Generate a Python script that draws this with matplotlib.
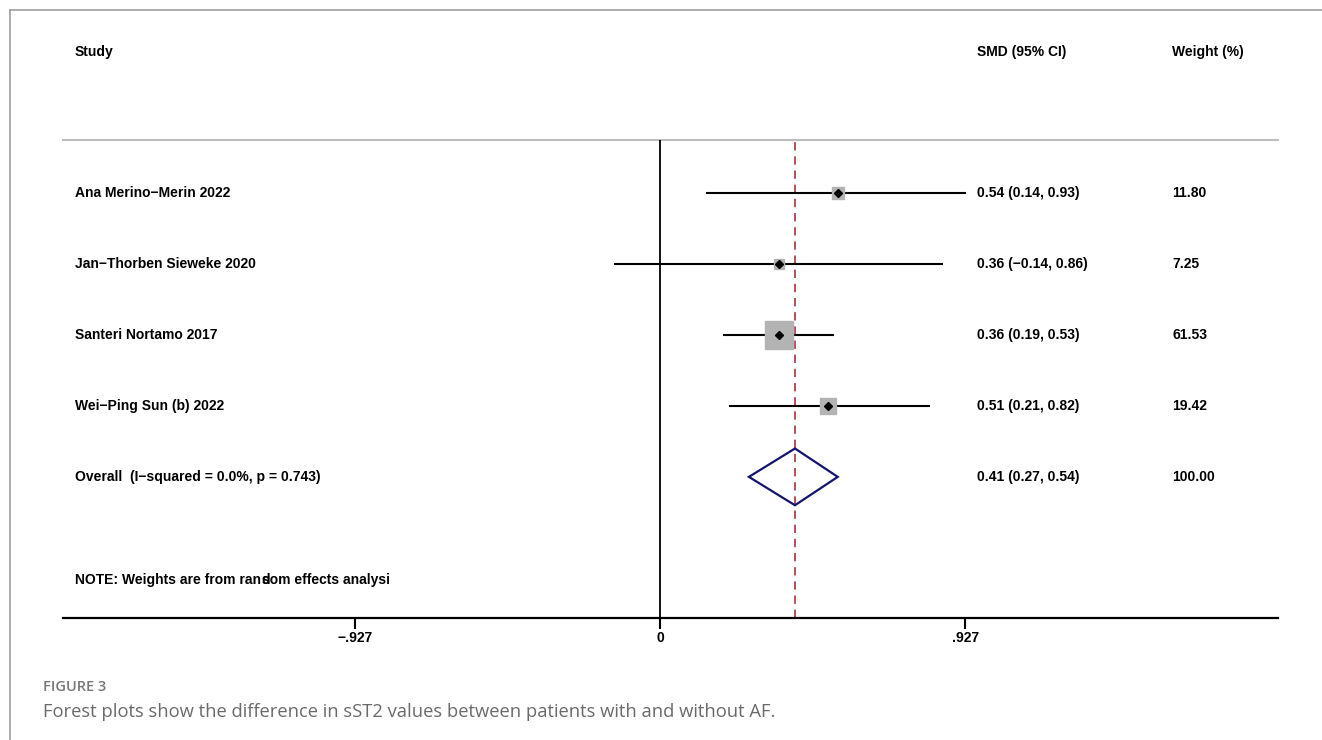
import numpy as np
import matplotlib.pyplot as plt
from matplotlib.lines import Line2D
from matplotlib.patches import Polygon

# study data
studies = ['Ana Merino\u2212Merin 2022', 'Jan\u2212Thorben Sieweke 2020',
           'Santeri Nortamo 2017', 'Wei\u2212Ping Sun (b) 2022']
smd = [0.54, 0.36, 0.36, 0.51]
ci_low = [0.14, -0.14, 0.19, 0.21]
ci_high = [0.93, 0.86, 0.53, 0.82]
weights = [11.80, 7.25, 61.53, 19.42]
overall = (0.41, 0.27, 0.54)
overall_label = 'Overall  (I\u2212squared = 0.0%, p = 0.743)'
tick_vals = [-0.927, 0, 0.927]
tick_labels = ['\u2212.927', '0', '.927']

FONT = ['Liberation Sans Narrow', 'Liberation Sans', 'DejaVu Sans']
FS = 10

fig = plt.figure(figsize=(13.22, 7.40), dpi=100)
ax = fig.add_axes([63 / 1322, 1 - 618 / 740, (1278 - 63) / 1322, (618 - 140) / 740])
ax.set_xlim(-1.8146, 1.878)
ax.set_ylim(6.99, 0.25)

for s in ['top', 'left', 'right']:
    ax.spines[s].set_visible(False)
ax.spines['bottom'].set_linewidth(1.6)
ax.set_yticks([])
ax.set_xticks(tick_vals)
ax.set_xticklabels(tick_labels, fontfamily=FONT, fontweight='bold', fontsize=FS)
ax.tick_params(axis='x', length=8, width=1.5, pad=1)

# header line and reference lines
ax.axhline(0.25, color='#bdbdbd', lw=1.5, clip_on=False)
ax.axvline(0, color='black', lw=1.3)
ax.axvline(overall[0], color='#a8323e', lw=1.2, ls=(0, (5, 3.5)))

txt = dict(fontfamily=FONT, fontweight='bold', fontsize=FS, va='center')
x_study, x_smd, x_wt = -1.778, 0.9635, 1.556
ax.text(x_study, -0.99, 'Study', **txt)
ax.text(x_smd, -0.99, 'SMD (95% CI)', **txt)
ax.text(x_wt, -0.99, 'Weight (%)', **txt)

for i, name in enumerate(studies):
    y = i + 1
    ax.plot([ci_low[i], ci_high[i]], [y, y], color='black', lw=1.5, solid_capstyle='butt')
    side = 3.5 * np.sqrt(weights[i])
    ax.plot(smd[i], y, marker='s', ms=side * 0.72, color='#b3b3b3', mec='#b3b3b3', zorder=3)
    ax.plot(smd[i], y, marker='D', ms=4.2, color='black', zorder=4)
    ax.text(x_study, y, name, **txt)
    ax.text(x_smd, y, '%.2f (%s, %.2f)' % (smd[i], ('%.2f' % ci_low[i]).replace('-', '\u2212'), ci_high[i]), **txt)
    ax.text(x_wt, y, '%.2f' % weights[i], **txt)

yo = len(studies) + 1
est, lo, hi = overall
ax.add_patch(Polygon([[lo, yo], [est, yo - 0.4], [hi, yo], [est, yo + 0.4]],
                     closed=True, fill=False, ec='#141470', lw=1.6, zorder=4))
ax.text(x_study, yo, overall_label, **txt)
ax.text(x_smd, yo, '%.2f (%.2f, %.2f)' % overall, **txt)
ax.text(x_wt, yo, '100.00', **txt)

# note line, with the overlapping glyphs of the original
t1 = ax.text(x_study, 6.45, 'NOTE: Weights are from ran', **txt)
fig.canvas.draw()
bb = t1.get_window_extent()
x_end = ax.transData.inverted().transform((bb.x1, 0))[0]
ax.text(x_end, 6.45, 'd', **txt)
ax.text(x_end + 0.004, 6.45, 'som effects analysi', **txt)

# page frame and caption
fig.add_artist(Line2D([10 / 1322, 1], [1 - 10 / 740, 1 - 10 / 740], color='#9e9e9e', lw=1.2))
fig.add_artist(Line2D([10 / 1322, 10 / 1322], [0, 1 - 10 / 740], color='#9e9e9e', lw=1.2))
fig.text(43 / 1322, 1 - 691 / 740, 'FIGURE 3', fontfamily=['Open Sans', 'DejaVu Sans'],
         fontsize=10.5, fontweight='semibold', color='#777777', va='baseline')
fig.text(43 / 1322, 1 - 717 / 740,
         'Forest plots show the difference in sST2 values between patients with and without AF.',
         fontfamily=['Open Sans', 'DejaVu Sans'], fontsize=13.2, color='#6a6a6a', va='baseline')

fig.savefig('out.png', dpi=100)
